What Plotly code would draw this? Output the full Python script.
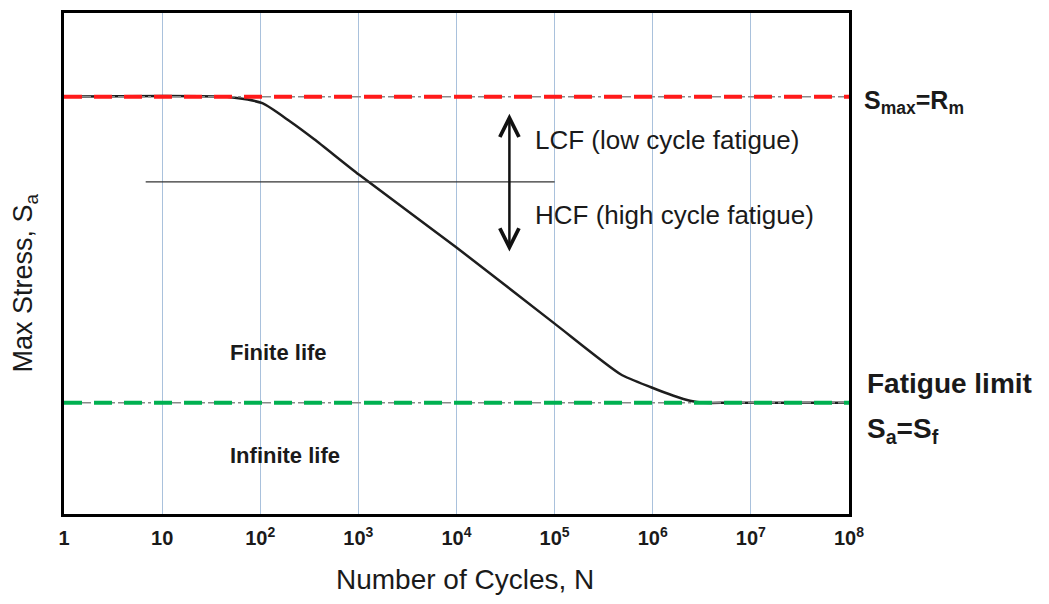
import math
import plotly.graph_objects as go

# S-N (Woehler) curve read at a handful of cycle counts
cycles = [1, 50, 105, 200, 355, 1020, 1.0e4, 1.0e5, 4.7e5, 9.6e5, 1.63e6, 2.4e6, 3.3e6, 6.0e6, 1.0e8]
stress = [83.3, 83.2, 82.0, 78.4, 74.8, 67.7, 53.2, 38.0, 27.9, 25.3, 23.6, 22.6, 22.2, 22.2, 22.2]

# Reference levels
s_max = 83.3          # S_max = R_m
s_fatigue = 22.2      # fatigue limit S_f
lcf_hcf_stress = 66.3 # LCF / HCF boundary
lcf_hcf_span = [6.8, 1.0e5]

# Double arrow separating LCF and HCF
arrow_cycles = 3.46e4
arrow_top = 80.2
arrow_bottom = 52.4

n_range = [1, 1.0e8]
tick_vals = [1, 10, 1e2, 1e3, 1e4, 1e5, 1e6, 1e7, 1e8]
tick_text = ["1", "10", "10<sup>2</sup>", "10<sup>3</sup>", "10<sup>4</sup>",
             "10<sup>5</sup>", "10<sup>6</sup>", "10<sup>7</sup>", "10<sup>8</sup>"]

FONT = "Liberation Sans, Arial, sans-serif"

fig = go.Figure()

# S-N curve
fig.add_trace(go.Scatter(
    x=cycles, y=stress, mode="lines",
    line=dict(color="#1e1e1e", width=2.5, shape="spline", smoothing=0.6),
    hoverinfo="skip",
))

# LCF/HCF boundary line
fig.add_trace(go.Scatter(
    x=lcf_hcf_span, y=[lcf_hcf_stress] * 2, mode="lines",
    line=dict(color="#333333", width=1.2), hoverinfo="skip",
))

# Dash-dot guide plus coloured dashed level for S_max and the fatigue limit
for level, colour in [(s_max, "#ff1a1a"), (s_fatigue, "#00b050")]:
    fig.add_trace(go.Scatter(
        x=n_range, y=[level] * 2, mode="lines",
        line=dict(color="#8a8a8a", width=1.5, dash="dashdot"), hoverinfo="skip",
    ))
    fig.add_trace(go.Scatter(
        x=n_range, y=[level] * 2, mode="lines",
        line=dict(color=colour, width=4, dash="18px,12px"), hoverinfo="skip",
    ))

annotations = [
    # double-headed arrow
    dict(x=math.log10(arrow_cycles), y=arrow_bottom,
         ax=math.log10(arrow_cycles), ay=arrow_top,
         xref="x", yref="y", axref="x", ayref="y",
         text="", showarrow=True, arrowhead=5, startarrowhead=5,
         arrowside="end+start", arrowsize=1.5, startarrowsize=1.5,
         arrowwidth=2.5, arrowcolor="#111111"),
    dict(x=0.5975, y=0.746, xref="paper", yref="paper", xanchor="left", yanchor="middle",
         text="LCF (low cycle fatigue)", showarrow=False,
         font=dict(family=FONT, size=26, color="#1a1a1a")),
    dict(x=0.5975, y=0.597, xref="paper", yref="paper", xanchor="left", yanchor="middle",
         text="HCF (high cycle fatigue)", showarrow=False,
         font=dict(family=FONT, size=26, color="#1a1a1a")),
    dict(x=1.0166, y=0.8214, xref="paper", yref="paper", xanchor="left", yanchor="middle",
         text="<b>S<sub>max</sub>=R<sub>m</sub></b>", showarrow=False,
         font=dict(family=FONT, size=25, color="#1a1a1a")),
    dict(x=1.0204, y=0.2599, xref="paper", yref="paper", xanchor="left", yanchor="middle",
         text="<b>Fatigue limit</b>", showarrow=False,
         font=dict(family=FONT, size=28, color="#1a1a1a")),
    dict(x=1.0204, y=0.1667, xref="paper", yref="paper", xanchor="left", yanchor="middle",
         text="<b>S<sub>a</sub>=S<sub>f</sub></b>", showarrow=False,
         font=dict(family=FONT, size=28, color="#1a1a1a")),
    dict(x=0.2089, y=0.3214, xref="paper", yref="paper", xanchor="left", yanchor="middle",
         text="<b>Finite life</b>", showarrow=False,
         font=dict(family=FONT, size=22, color="#1a1a1a")),
    dict(x=0.2089, y=0.1171, xref="paper", yref="paper", xanchor="left", yanchor="middle",
         text="<b>Infinite life</b>", showarrow=False,
         font=dict(family=FONT, size=22, color="#1a1a1a")),
    # axis titles
    dict(x=0.511, y=-0.131, xref="paper", yref="paper", xanchor="center", yanchor="middle",
         text="Number of Cycles, N", showarrow=False,
         font=dict(family=FONT, size=28, color="#1a1a1a")),
    dict(x=-0.0497, y=0.462, xref="paper", yref="paper", xanchor="center", yanchor="middle",
         text="Max Stress, S<sub>a</sub>", showarrow=False, textangle=-90,
         font=dict(family=FONT, size=27, color="#1a1a1a")),
]

fig.update_layout(
    width=1049, height=604,
    margin=dict(l=64, r=200, t=10, b=90),
    paper_bgcolor="white", plot_bgcolor="white",
    showlegend=False,
    annotations=annotations,
    xaxis=dict(
        type="log", range=[0, 8],
        tickmode="array", tickvals=tick_vals, ticktext=tick_text,
        showgrid=True, gridcolor="#a9c1dc", gridwidth=1,
        showline=True, linecolor="black", linewidth=3, mirror=True,
        ticks="", zeroline=False, ticklabelstandoff=4,
        tickfont=dict(family=FONT, size=20, color="#1a1a1a", weight="bold"),
    ),
    yaxis=dict(
        range=[0, 100], showticklabels=False, showgrid=False,
        showline=True, linecolor="black", linewidth=3, mirror=True,
        ticks="", zeroline=False,
    ),
)

fig.write_html("out.html")
